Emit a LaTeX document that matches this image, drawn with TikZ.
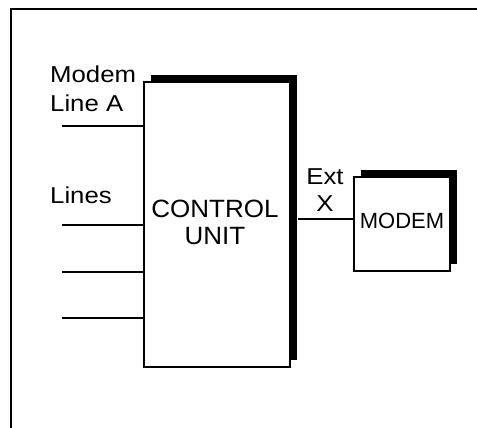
\documentclass[tikz,border=0pt]{standalone}
\usepackage{fontspec}
\setmainfont{Liberation Sans}
\usetikzlibrary{shadows}
\newcommand\lblfont{\fontsize{23}{28}\selectfont}
\newcommand\cufont{\fontsize{25}{28}\selectfont}
\newcommand\mofont{\fontsize{22}{26}\selectfont}
\newcommand\wide[1]{\scalebox{1.12}[1]{#1}}
\begin{document}
\begin{tikzpicture}[x=1pt,y=-1pt,
  box/.style={draw=black, line width=1.3pt, fill=white, inner sep=0pt,
    drop shadow={shadow xshift=7pt, shadow yshift=7pt, fill=black, opacity=1}},
  wire/.style={line width=1.3pt},
  lbl/.style={inner sep=0pt, font=\lblfont},
  frame/.style={line width=2pt}]
\useasboundingbox (0,0) rectangle (477,428);
% frame
\coordinate (fbl) at (11,429);
\coordinate (ftl) at (11,9);
\coordinate (ftr) at (478,9);
\draw[frame] (fbl) -- (ftl) -- (ftr);
% boxes
\node[box, minimum width=146pt, minimum height=285pt] (cu) at (217,224.5) {};
\node[box, minimum width=96pt, minimum height=94pt] (mo) at (402,224) {};
% box texts
\node[inner sep=0pt, anchor=base, font=\cufont] (t1) at (215,217) {\scalebox{1.04}[1]{CONTROL}};
\node[inner sep=0pt, anchor=base, font=\cufont] (t2) at (215,244) {\scalebox{1.04}[1]{UNIT}};
\node[inner sep=0pt, anchor=base, font=\mofont] (t3) at (402,228) {MODEM};
% input lines
\coordinate (l1) at (62,126);
\coordinate (l2) at (62,225);
\coordinate (l3) at (62,272);
\coordinate (l4) at (62,318);
\draw[wire] (l1) -- (l1 -| cu.west);
\draw[wire] (l2) -- (l2 -| cu.west);
\draw[wire] (l3) -- (l3 -| cu.west);
\draw[wire] (l4) -- (l4 -| cu.west);
% link
\coordinate (ext) at (298,219);
\draw[wire] (ext) -- (ext -| mo.west);
% labels
\node[lbl, anchor=base west] (m1) at (50,83) {\wide{Modem}};
\node[lbl, anchor=base west] (m2) at (50,111) {\wide{Line A}};
\node[lbl, anchor=base west] (ls) at (50,203) {\wide{Lines}};
\node[lbl, anchor=base] (e1) at (325,184) {\wide{Ext}};
\node[lbl, anchor=base] (e2) at (325,211) {\wide{X}};
\end{tikzpicture}
\end{document}
